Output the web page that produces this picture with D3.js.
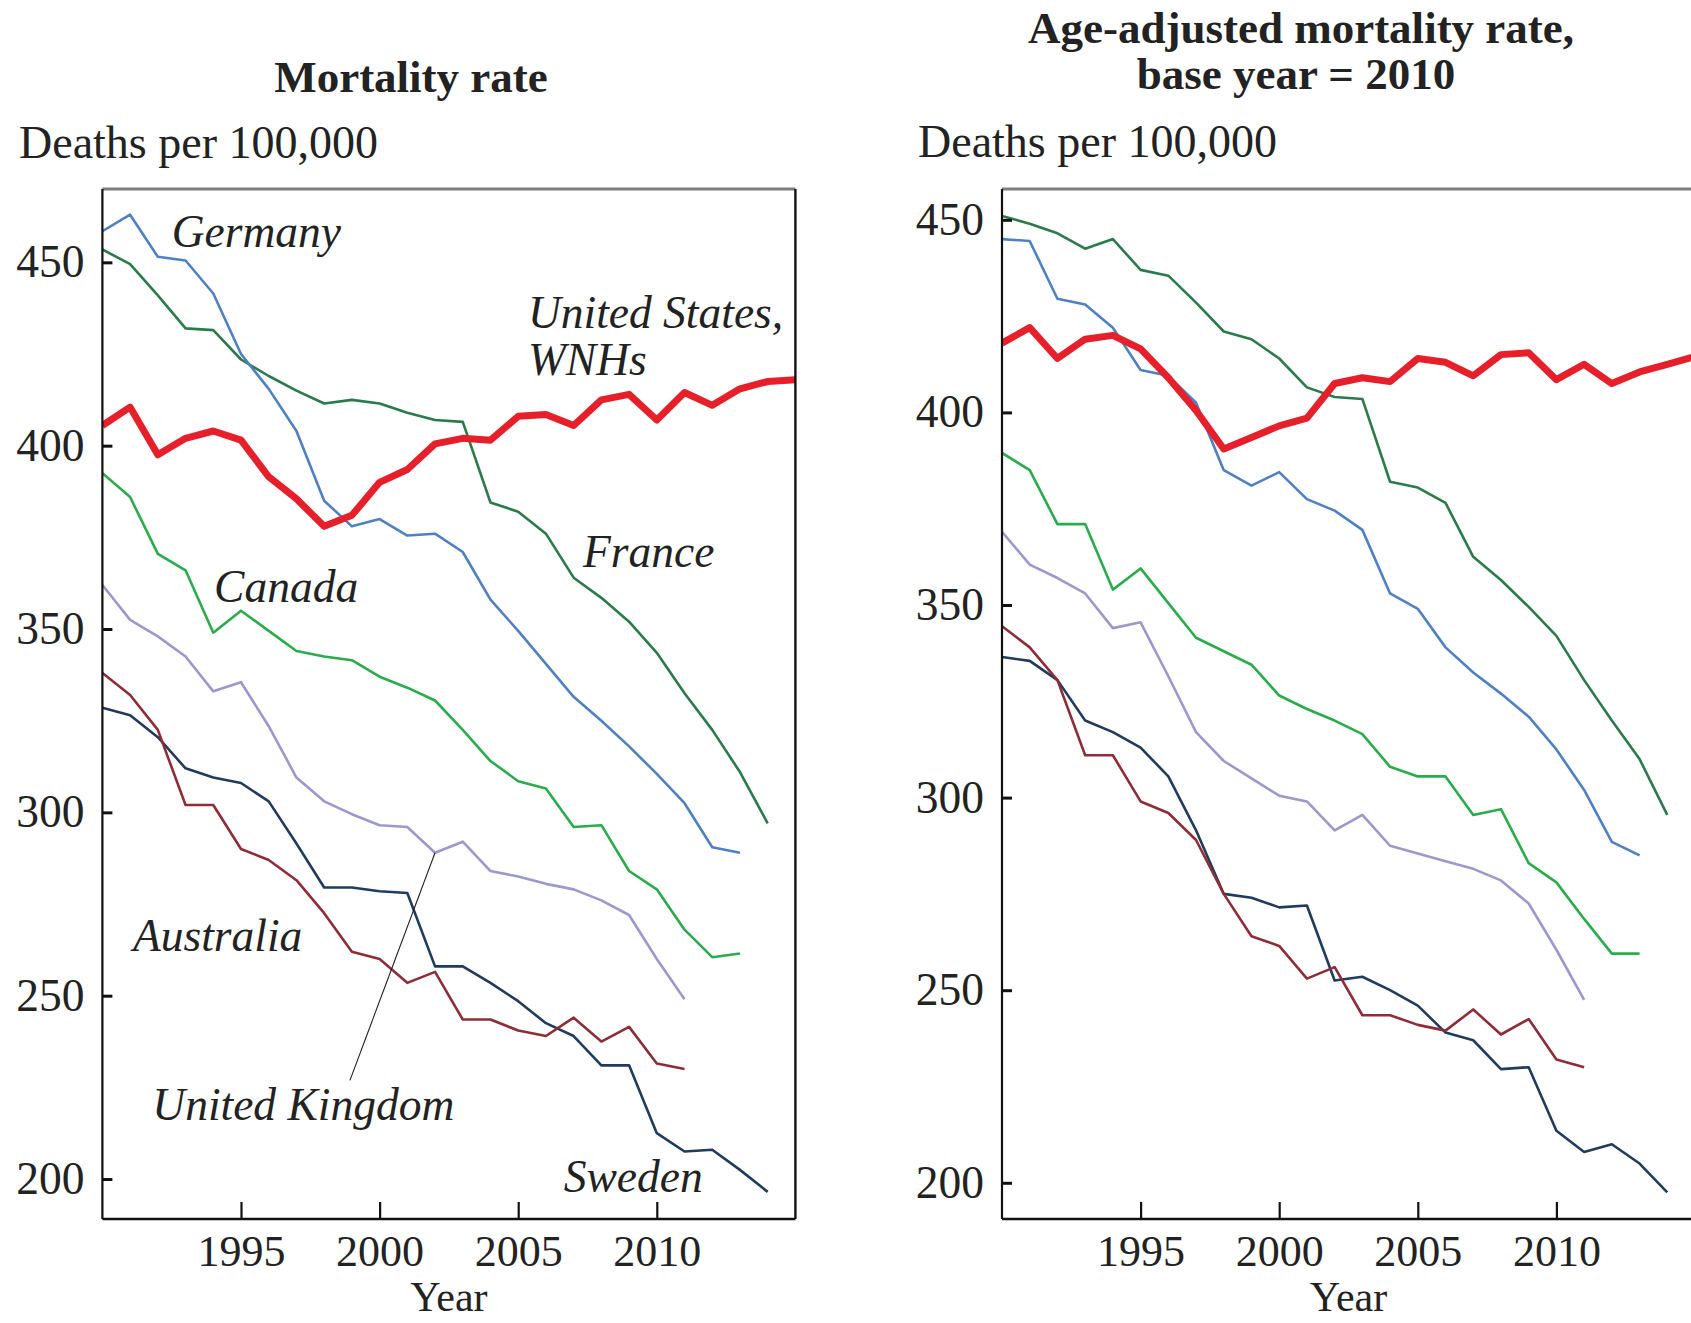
<!DOCTYPE html>
<html><head><meta charset="utf-8">
<script src="https://cdn.jsdelivr.net/npm/d3@7"></script>
<style>
html,body{margin:0;padding:0;background:#fff;}
svg{display:block;}
text{font-family:"Liberation Serif","Times New Roman",serif;fill:#222;}
</style></head>
<body>
<svg id="chart" width="1691" height="1323"></svg>
<script>
// ---------- DATA ----------
const years = d3.range(1990, 2016);
const countries = ["United States", "Germany", "France", "Canada", "United Kingdom", "Australia", "Sweden"];

// Panel 1: mortality rate (deaths per 100,000)
const crudeUS      = [405.5,410.5,397.5,402,404,401.5,391.5,385.5,378,381,390,393.5,400.5,402,401.5,408,408.5,405.5,412.5,414,407,414.5,411,415.5,417.5,418];
const crudeGermany = [458.5,463,451.5,450.5,441.5,425,415.5,404,385,378,380,375.5,376,371,358,349.5,340.5,331.5,325,318,310.5,302.5,290.5,289];
const crudeFrance  = [453.5,449.5,441,432,431.5,423.5,419,415,411.5,412.5,411.5,409,407,406.5,384.5,382,376,364,358.5,352,343.5,332.5,322.5,311,297];
const crudeCanada  = [392.5,386,370.5,366,349,355,349.5,344,342.5,341.5,337,334,330.5,322.5,314,308.5,306.5,296,296.5,284,279,268,260.5,261.5];
const crudeUK      = [362,352.5,348,342.5,333,335.5,323.5,309.5,303,299.5,296.5,296,289,292,284,282.5,280.5,279,276,272,260,249];
const crudeAustralia = [338,332,322.5,302,302,290,287,281.5,272.5,262,260,253.5,256.5,243.5,243.5,240.5,239,244,237.5,241.5,231.5,230];
const crudeSweden  = [328.5,326.5,320.5,312,309.5,308,303,291.5,279.5,279.5,278.5,278,258,258,253.5,248.5,242.5,239,231,231,212.5,207.5,208,202.5,196.5];

// Panel 2: age-adjusted mortality rate, base year = 2010
const adjUS      = [418,422,414,419,420,416.5,409,400.5,390.5,393.5,396.5,398.5,407.5,409,408,414,413,409.5,415,415.5,408.5,412.5,407.5,410.5,412.5,414.5];
const adjGermany = [445,444.5,429.5,428,422,411,409.5,402.5,385,381,384.5,377.5,374.5,369.5,353,349,339,332.5,327,321,312.5,302,288.5,285];
const adjFrance  = [451,449,446.5,442.5,445,437,435.5,428.5,421,419,414,406.5,404,403.5,382,380.5,376.5,362.5,356.5,349.5,342,330.5,320,310,295.5];
const adjCanada  = [389.5,385,371,371,354,359.5,350.5,341.5,338,334.5,326.5,323,320,316.5,308,305.5,305.5,295.5,297,283,278,268.5,259.5,259.5];
const adjUK      = [369,360.5,357,353,344,345.5,331.5,317,309.5,305,300.5,299,291.5,295.5,287.5,285.5,283.5,281.5,278.5,272.5,260.5,247.5];
const adjAustralia = [344.5,339,330.5,311,311,299,296,289,275,264,261.5,253,256,243.5,243.5,241,239.5,245,238.5,242.5,232,230];
const adjSweden  = [336.5,335.5,330.5,320,317,313,305.5,291.5,275,274,271.5,272,252.5,253.5,250,246,239,237,229.5,230,213.5,208,210,205,197.5];

const yTicks = [200, 250, 300, 350, 400, 450];
const xTicks = [1995, 2000, 2005, 2010];

// Country labels of panel 1 (anchored in data units: year, value)
const labelText  = ["Germany", "United States,", "WNHs", "France", "Canada", "Australia", "United Kingdom", "Sweden"];
const labelYear  = [1992.5, 2005.35, 2005.35, 2007.34, 1994.03, 1991.1, 1991.8, 2006.64];
const labelValue = [454.1, 432.0, 419.2, 366.9, 357.3, 262.3, 216.0, 196.4];
// leader line for United Kingdom: from label (year,value) to the line at 2002
const leaderFrom = [1998.93, 226.9];
const leaderToYear = 2002;

// ---------- STYLE ----------
const colors = {
  "United States": "#e5202b",
  "Germany": "#4f80c2",
  "France": "#2b7a4b",
  "Canada": "#2aab4c",
  "United Kingdom": "#9c98cc",
  "Australia": "#8c2d38",
  "Sweden": "#203b5c"
};
const widths = {"United States": 7};

const svg = d3.select("#chart");

function panel(opts) {
  const {x, y, series, clipId} = opts;
  const g = svg.append("g");
  const [x0, x1] = x.range();
  const [yb, yt] = y.range();

  g.append("clipPath").attr("id", clipId).append("rect")
    .attr("x", x0).attr("y", yt).attr("width", x1 - x0).attr("height", yb - yt);

  const line = d3.line().x(d => x(d[0])).y(d => y(d[1]));
  const order = ["Sweden", "Australia", "United Kingdom", "Canada", "France", "Germany", "United States"];
  order.forEach(c => {
    const vals = series[c];
    const pts = vals.map((v, i) => [years[i], v]);
    g.append("path")
      .datum(pts)
      .attr("clip-path", `url(#${clipId})`)
      .attr("fill", "none")
      .attr("stroke", colors[c])
      .attr("stroke-width", widths[c] || 2.6)
      .attr("stroke-linejoin", "round")
      .attr("stroke-linecap", "butt")
      .attr("d", line);
  });

  // frame
  g.append("line").attr("x1", x0).attr("x2", x1).attr("y1", yt).attr("y2", yt)
    .attr("stroke", "#7d7d7d").attr("stroke-width", 3);
  g.append("line").attr("x1", x1).attr("x2", x1).attr("y1", yt).attr("y2", yb)
    .attr("stroke", "#111").attr("stroke-width", 2.4);

  // axes
  const yAxis = d3.axisLeft(y).tickValues(yTicks).tickSize(-10).tickPadding(28).tickFormat(d3.format("d"));
  const gy = g.append("g").attr("transform", `translate(${x0},0)`).call(yAxis);
  gy.select(".domain").attr("stroke", "#111").attr("stroke-width", 2.2).attr("d", `M0,${yt}V${yb}`);
  gy.selectAll(".tick line").attr("stroke", "#111").attr("stroke-width", 3);
  gy.selectAll(".tick text").attr("x", -18).attr("font-size", 45.5).attr("fill", "#333")
    .style("font-family", "'Liberation Serif', serif");

  const xAxis = d3.axisBottom(x).tickValues(xTicks).tickSize(-17).tickPadding(32).tickFormat(d3.format("d"));
  const gx = g.append("g").attr("transform", `translate(0,${yb})`).call(xAxis);
  gx.select(".domain").attr("stroke", "#111").attr("stroke-width", 2.6).attr("d", `M${x0},0H${x1}`);
  gx.selectAll(".tick line").attr("stroke", "#111").attr("stroke-width", 2.2);
  gx.selectAll(".tick text").attr("y", 47).attr("dy", 0).attr("font-size", 44).attr("fill", "#333")
    .style("font-family", "'Liberation Serif', serif");

  g.append("text").attr("x", (x0 + x1) / 2).attr("y", 1311).attr("text-anchor", "middle")
    .attr("font-size", 42).attr("fill", "#333").text("Year");
  return g;
}

// ---------- PANEL 1 ----------
const xL = d3.scaleLinear().domain([1990, 2015]).range([102.4, 795.4]);
const yL = d3.scaleLinear().domain([189.1, 470]).range([1219, 189]);
const pL = panel({
  x: xL, y: yL, clipId: "clipL",
  series: {
    "United States": crudeUS, "Germany": crudeGermany, "France": crudeFrance, "Canada": crudeCanada,
    "United Kingdom": crudeUK, "Australia": crudeAustralia, "Sweden": crudeSweden
  }
});

// leader line
pL.append("line")
  .attr("x1", xL(leaderFrom[0])).attr("y1", yL(leaderFrom[1]))
  .attr("x2", xL(leaderToYear)).attr("y2", yL(crudeUK[years.indexOf(leaderToYear)]))
  .attr("stroke", "#222").attr("stroke-width", 1.1);

labelText.forEach((t, i) => {
  pL.append("text")
    .attr("x", xL(labelYear[i])).attr("y", yL(labelValue[i]))
    .attr("font-size", 45.5).attr("font-style", "italic").attr("fill", "#333")
    .text(t);
});

// ---------- PANEL 2 ----------
const xR = d3.scaleLinear().domain([1990, 2015]).range([1002, 1695]);
const yR = d3.scaleLinear().domain([190.6, 458]).range([1219, 189]);
panel({
  x: xR, y: yR, clipId: "clipR",
  series: {
    "United States": adjUS, "Germany": adjGermany, "France": adjFrance, "Canada": adjCanada,
    "United Kingdom": adjUK, "Australia": adjAustralia, "Sweden": adjSweden
  }
});

// ---------- TITLES ----------
svg.append("text").attr("x", 411).attr("y", 92).attr("text-anchor", "middle")
  .attr("font-size", 45).attr("font-weight", "bold").attr("fill", "#222").text("Mortality rate");
svg.append("text").attr("x", 19).attr("y", 158)
  .attr("font-size", 46).attr("fill", "#333").text("Deaths per 100,000");

svg.append("text").attr("x", 1301).attr("y", 43).attr("text-anchor", "middle")
  .attr("font-size", 45).attr("font-weight", "bold").attr("fill", "#222").text("Age-adjusted mortality rate,");
svg.append("text").attr("x", 1296).attr("y", 89).attr("text-anchor", "middle")
  .attr("font-size", 45).attr("font-weight", "bold").attr("fill", "#222").text("base year = 2010");
svg.append("text").attr("x", 918).attr("y", 157)
  .attr("font-size", 46).attr("fill", "#333").text("Deaths per 100,000");
</script>
</body></html>
